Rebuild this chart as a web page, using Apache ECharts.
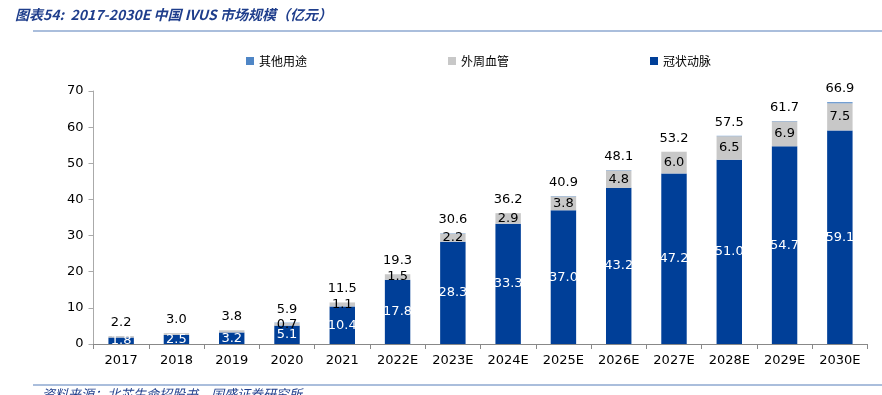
<!DOCTYPE html>
<html><head><meta charset="utf-8">
<script src="https://cdn.jsdelivr.net/npm/echarts@6/dist/echarts.min.js"></script>
<style>html,body{margin:0;padding:0;background:#fff;}#c{width:882px;height:395px;}</style>
</head><body><div id="c"></div>
<script>
const categories = ['2017','2018','2019','2020','2021','2022E','2023E','2024E','2025E','2026E','2027E','2028E','2029E','2030E'];
const coronary = [1.8,2.5,3.2,5.1,10.4,17.8,28.3,33.3,37.0,43.2,47.2,51.0,54.7,59.1];
const peripheral = [0.4,0.5,0.6,0.7,1.1,1.5,2.2,2.9,3.8,4.8,6.0,6.5,6.9,7.5];
const others = [0,0,0,0.1,0,0,0.1,0,0.1,0.1,0,0.1,0.1,0.3];
const totals = ['2.2','3.0','3.8','5.9','11.5','19.3','30.6','36.2','40.9','48.1','53.2','57.5','61.7','66.9'];
const peripheralLabelFrom = 3;
const yTicks = {min:0, max:70, interval:10};

const chart = echarts.init(document.getElementById('c'));
const fontFam = 'DejaVu Sans, Verdana, sans-serif';
chart.setOption({
  animation:false,
  graphic:[
    {type:'text', left:15, top:8, style:{text:'图表54:  2017-2030E 中国 IVUS 市场规模（亿元）', fill:'#1F3E8C', font:'italic bold 14px "Noto Sans CJK SC", sans-serif'}},
    {type:'line', shape:{x1:33,y1:31,x2:882,y2:31}, style:{stroke:'#8EA9D1', lineWidth:1.5}},
    {type:'line', shape:{x1:33,y1:385,x2:882,y2:385}, style:{stroke:'#8EA9D1', lineWidth:1.5}},
    {type:'text', left:42, top:388, style:{text:'资料来源：北芯生命招股书，国盛证券研究所', fill:'#1F3E8C', font:'italic 13px "Noto Sans CJK SC", sans-serif'}}
  ],
  legend:{
    data:['其他用途','外周血管','冠状动脉'],
    left:241, top:50, itemWidth:8, itemHeight:8, itemGap:141,
    icon:'rect',
    textStyle:{color:'#000', fontSize:12, fontFamily:'"Noto Sans CJK SC", sans-serif'}
  },
  grid:{left:93.5, right:14.5, top:91, bottom:51, containLabel:false},
  xAxis:{
    type:'category', data:categories,
    axisLine:{lineStyle:{color:'#888'}},
    axisTick:{show:true, alignWithLabel:false, lineStyle:{color:'#888'}, length:5},
    axisLabel:{color:'#000', fontSize:13, fontFamily:fontFam, margin:10}
  },
  yAxis:{
    type:'value', min:yTicks.min, max:yTicks.max, interval:yTicks.interval,
    axisLine:{show:true, lineStyle:{color:'#aaa'}},
    axisTick:{show:true, inside:false, length:5, lineStyle:{color:'#aaa'}},
    splitLine:{show:false},
    axisLabel:{color:'#000', fontSize:13, fontFamily:fontFam, margin:10}
  },
  series:[
    {name:'冠状动脉', type:'bar', stack:'t', data:coronary, barWidth:'46%',
     itemStyle:{color:'#003F98'},
     label:{show:true, position:'inside', color:'#fff', fontSize:13, fontFamily:fontFam, formatter:p=>p.value.toFixed(1)}},
    {name:'外周血管', type:'bar', stack:'t', data:peripheral, barWidth:'46%',
     itemStyle:{color:'#C8C8C8'},
     label:{show:true, position:'inside', color:'#000', fontSize:13, fontFamily:fontFam,
       formatter:p=> p.dataIndex>=peripheralLabelFrom ? p.value.toFixed(1) : ''}},
    {name:'其他用途', type:'bar', stack:'t', data:others, barWidth:'46%',
     itemStyle:{color:'#4F86C6'},
     label:{show:true, position:'top', distance:7, color:'#000', fontSize:13, fontFamily:fontFam,
       formatter:p=>totals[p.dataIndex]}}
  ]
});
</script></body></html>
